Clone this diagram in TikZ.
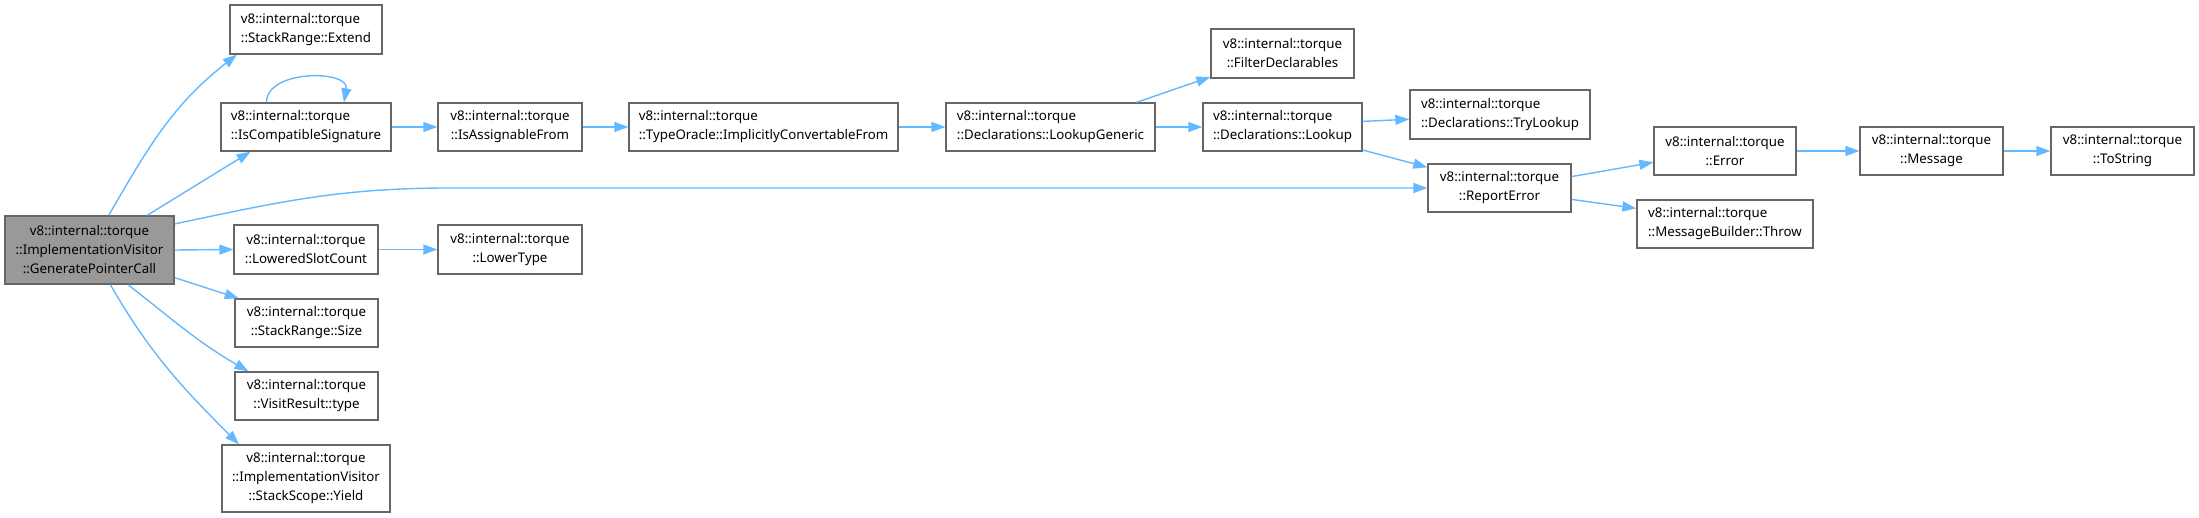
\documentclass[tikz,border=0pt]{standalone}
\usepackage{fontspec}
\setsansfont{Noto Sans}
\usetikzlibrary{arrows.meta}
\definecolor{edgeblue}{RGB}{99, 184, 255}
\definecolor{boxgray}{RGB}{102, 102, 102}
\definecolor{rootfill}{RGB}{153, 153, 153}

\tikzset{
    fn/.style={draw=boxgray, line width=1.3pt, fill=white, inner sep=0pt,
        font=\sffamily\fontsize{13.3}{19}\selectfont, align=center},
    fnl/.style={fn, align=left},
    call/.style={draw=edgeblue, line width=1.4pt,
        -{Triangle[length=14pt, width=10pt]}}
}

\begin{document}
\begin{tikzpicture}[x=1pt, y=-1pt]
    \useasboundingbox (0,0) rectangle (2199,518);

                \node[fn, fill=rootfill, minimum width=169pt, minimum height=68pt] (root)
                    at (89.5, 250) {v8::internal::torque\\::ImplementationVisitor\\::GeneratePointerCall};

                \node[fnl, minimum width=152pt, minimum height=49pt] (extend)
                    at (306, 29.5) {v8::internal::torque\\::StackRange::Extend};
                \node[fnl, minimum width=170pt, minimum height=48pt] (compat)
                    at (306, 127) {v8::internal::torque\\::IsCompatibleSignature};
                \node[fn, minimum width=144pt, minimum height=49pt] (lowered)
                    at (306, 249.5) {v8::internal::torque\\::LoweredSlotCount};
                \node[fn, minimum width=143pt, minimum height=48pt] (size)
                    at (306.5, 323) {v8::internal::torque\\::StackRange::Size};
                \node[fn, minimum width=143pt, minimum height=48pt] (vtype)
                    at (306.5, 396) {v8::internal::torque\\::VisitResult::type};
                \node[fn, minimum width=168pt, minimum height=67pt] (yield)
                    at (306, 478.5) {v8::internal::torque\\::ImplementationVisitor\\::StackScope::Yield};

                \node[fn, minimum width=144pt, minimum height=48pt] (assign)
                    at (510, 127) {v8::internal::torque\\::IsAssignableFrom};
                \node[fn, minimum width=144pt, minimum height=49pt] (lowertype)
                    at (510, 249.5) {v8::internal::torque\\::LowerType};
                \node[fnl, minimum width=269pt, minimum height=48pt] (implicit)
                    at (763.5, 127) {v8::internal::torque\\::TypeOracle::ImplicitlyConvertableFrom};
                \node[fnl, minimum width=209pt, minimum height=48pt] (lookupgen)
                    at (1050.5, 127) {v8::internal::torque\\::Declarations::LookupGeneric};

                \node[fn, minimum width=143pt, minimum height=49pt] (filter)
                    at (1282.5, 53.5) {v8::internal::torque\\::FilterDeclarables};
                \node[fnl, minimum width=159pt, minimum height=48pt] (lookup)
                    at (1282.5, 127) {v8::internal::torque\\::Declarations::Lookup};
                \node[fnl, minimum width=180pt, minimum height=49pt] (trylookup)
                    at (1500, 114.5) {v8::internal::torque\\::Declarations::TryLookup};
                \node[fn, minimum width=143pt, minimum height=48pt] (reporterror)
                    at (1499.5, 188) {v8::internal::torque\\::ReportError};

                \node[fn, minimum width=142pt, minimum height=48pt] (error)
                    at (1725, 151) {v8::internal::torque\\::Error};
                \node[fnl, minimum width=176pt, minimum height=48pt] (throw)
                    at (1725, 224) {v8::internal::torque\\::MessageBuilder::Throw};
                \node[fn, minimum width=143pt, minimum height=48pt] (message)
                    at (1931.5, 151) {v8::internal::torque\\::Message};
                \node[fn, minimum width=143pt, minimum height=48pt] (tostring)
                    at (2122.5, 151) {v8::internal::torque\\::ToString};

                \draw[call] (root.61) to[out=60, in=218] (extend.200);
                \draw[call] (root.31.5) -- (compat.204);
                \draw[call] (root.17) to[out=12, in=180] (450, 188) -- (reporterror.west);
                \draw[call] (root.east) -- (lowered.west);
                \draw[call] (root.-18) -- (size.160);
                \draw[call] (root.-42) to[out=-38, in=150] (vtype.157);
                \draw[call] (root.-59) to[out=-60, in=135] (yield.153);

                \draw[call] (compat.148) to[out=90, in=80, looseness=1.1] (compat.33);
                \draw[call] (compat.east) -- (assign.west);
                \draw[call] (assign.east) -- (implicit.west);
                \draw[call] (implicit.east) -- (lookupgen.west);
                \draw[call] (lookupgen.16.8) -- (filter.198);
                \draw[call] (lookupgen.east) -- (lookup.west);
                \draw[call] (lowered.east) -- (lowertype.west);

                \draw[call] (lookup.4) -- (trylookup.183);
                \draw[call] (lookup.-16) -- (reporterror.164);
                \draw[call] (reporterror.9.5) -- (error.189);
                \draw[call] (reporterror.-9.5) -- (throw.170);
                \draw[call] (error.east) -- (message.west);
                \draw[call] (message.east) -- (tostring.west);

            \end{tikzpicture}
\end{document}
